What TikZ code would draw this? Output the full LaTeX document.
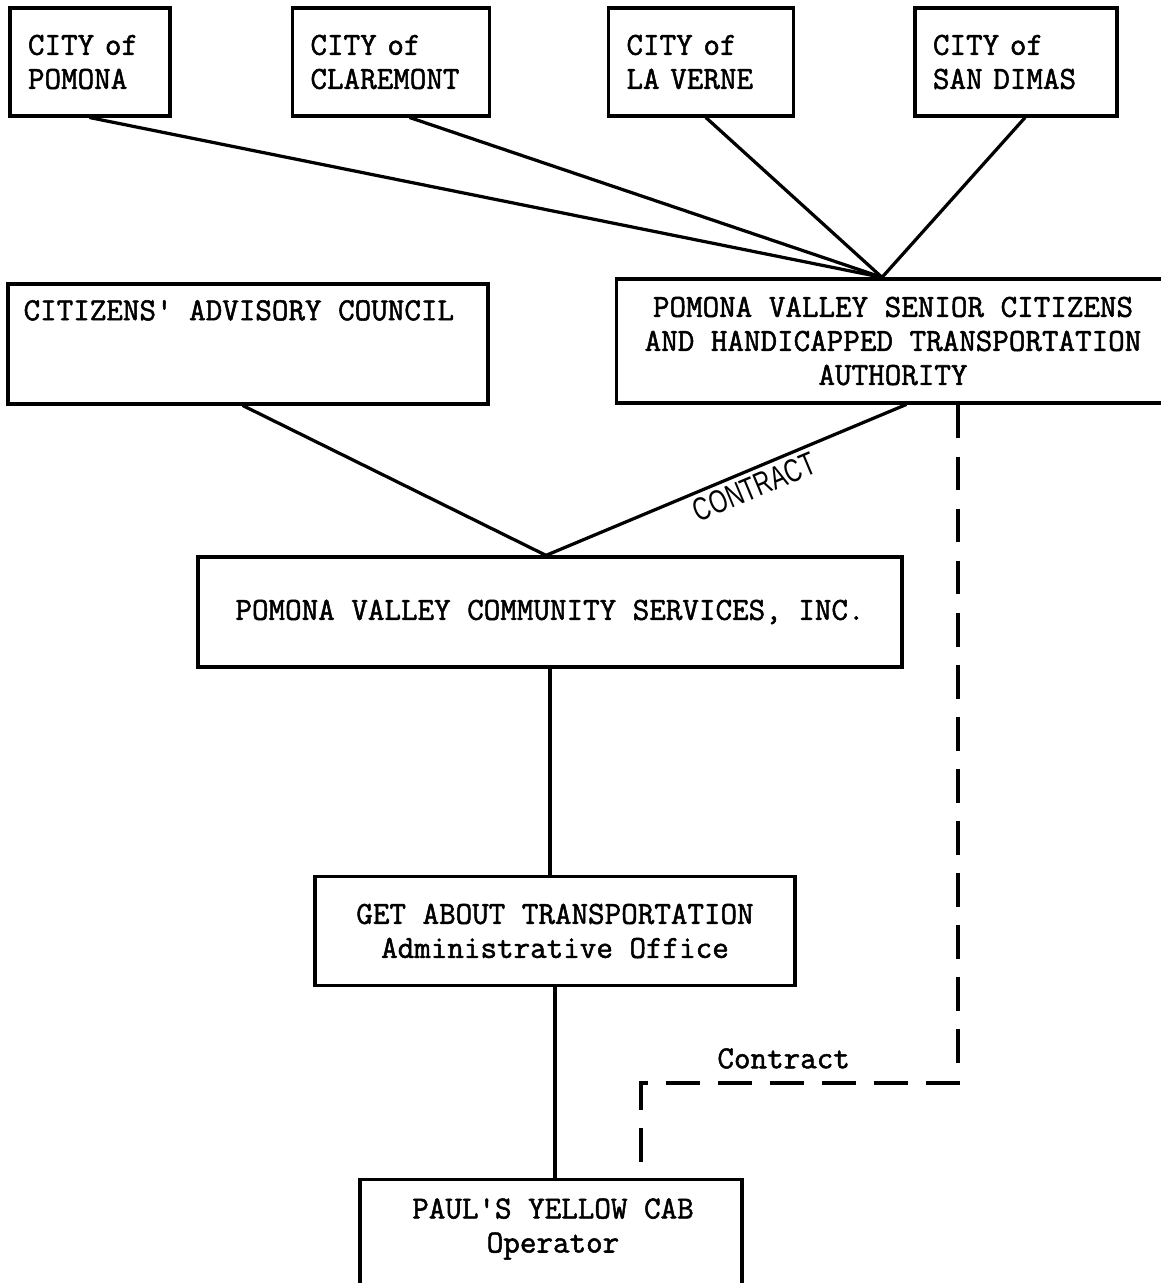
\documentclass[tikz,border=0pt]{standalone}
\usepackage{fontspec}
\setmonofont{Latin Modern Mono}[FakeBold=1.6]
\setsansfont{Liberation Sans}
\usepackage{graphicx}
\usetikzlibrary{positioning}
\usetikzlibrary{calc}
\tikzset{
  box/.style    = { rectangle, inner sep=0pt },
  border/.style = { draw=black, line width=2.3pt },
  typed/.style  = { font=\fontsize{22.86}{24.2}\selectfont\ttfamily },
}
\tikzset{
  city/.style     = { box, border, typed, align=left, text width=#1,
                      inner xsep=0.45cm, minimum height=2.7cm },
  agency/.style   = { box, border, typed, align=center },
  blank/.style    = { box, border },
  note/.style     = { typed, inner sep=0pt },
  link/.style     = { line width=2.3pt, line cap=round, line join=round },
  contract/.style = { line width=2.4pt, dash pattern=on 24pt off 13pt }
}

\begin{document}
\begin{tikzpicture}[x=0.025cm,y=-0.025cm]
  \useasboundingbox (0,0) rectangle (1160,1283);

  % member cities
  \node (pom) [city=3.1cm]   at (90,62)   {CITY of\\POMONA};
  \node (cla) [city=4.025cm] at (391,62)  {CITY of\\CLAREMONT};
  \node (lav) [city=3.725cm] at (701,62)  {CITY of\\LA VERNE};
  \node (sdi) [city=4.15cm]  at (1016,62) {CITY of\\SAN DIMAS};

  \node (cac)   [blank,minimum width=12cm,minimum height=3cm] at (248,344) {};
  \node (cac-t) [note,anchor=west] at ($(cac.north west)+(17,28)$)
                {CITIZENS' ADVISORY COUNCIL};
  \node (auth)  [agency,minimum width=13.825cm,minimum height=3.1cm] at (893,341)
                {POMONA VALLEY SENIOR CITIZENS\\AND HANDICAPPED TRANSPORTATION\\AUTHORITY};

  \node (pvcs)  [agency,minimum width=17.6cm,minimum height=2.75cm] at (550,612)
                {POMONA VALLEY COMMUNITY SERVICES, INC.};
  \node (gat)   [agency,minimum width=12cm,minimum height=2.725cm] at (555,931)
                {GET ABOUT TRANSPORTATION\\Administrative Office};
  \node (pyc)   [blank,minimum width=9.55cm,minimum height=3.525cm] at (551,1250) {};
  \node (pyc-t) [note,align=center] at (553,1229) {PAUL'S YELLOW CAB\\Operator};

  \coordinate (hub)  at ($(auth.north)+(-11,0)$);
  \coordinate (apex) at ($(pvcs.north)+(-4,0)$);

  \draw [link] (pom.south) -- (hub);
  \draw [link] ($(cla.south)+(19,0)$) -- (hub);
  \draw [link] ($(lav.south)+(5,0)$)  -- (hub);
  \draw [link] ($(sdi.south)+(9,0)$)  -- (hub);

  \draw [link] ($(cac.south)+(-5,0)$) -- (apex);
  \draw [link] (apex) -- ($(auth.south)+(13,0)$)
        node [pos=.56,sloped,below=3pt,inner sep=0pt,
              font=\sffamily\fontsize{23}{26}\selectfont] {\scalebox{0.72}[1]{CONTRACT}};

  \draw [link] (pvcs.south) -- (pvcs.south |- gat.north);
  \draw [link] (gat.south)  -- (gat.south |- pyc.north);

  % dashed contract to the operator
  \coordinate (turn) at (958,1083);
  \coordinate (drop) at (641,1083);
  \draw [contract] (auth.south -| turn) -- (turn) -- (drop)
        node [note,pos=.55,above=9pt] {Contract}
        -- (drop |- pyc.north);
\end{tikzpicture}
\end{document}
